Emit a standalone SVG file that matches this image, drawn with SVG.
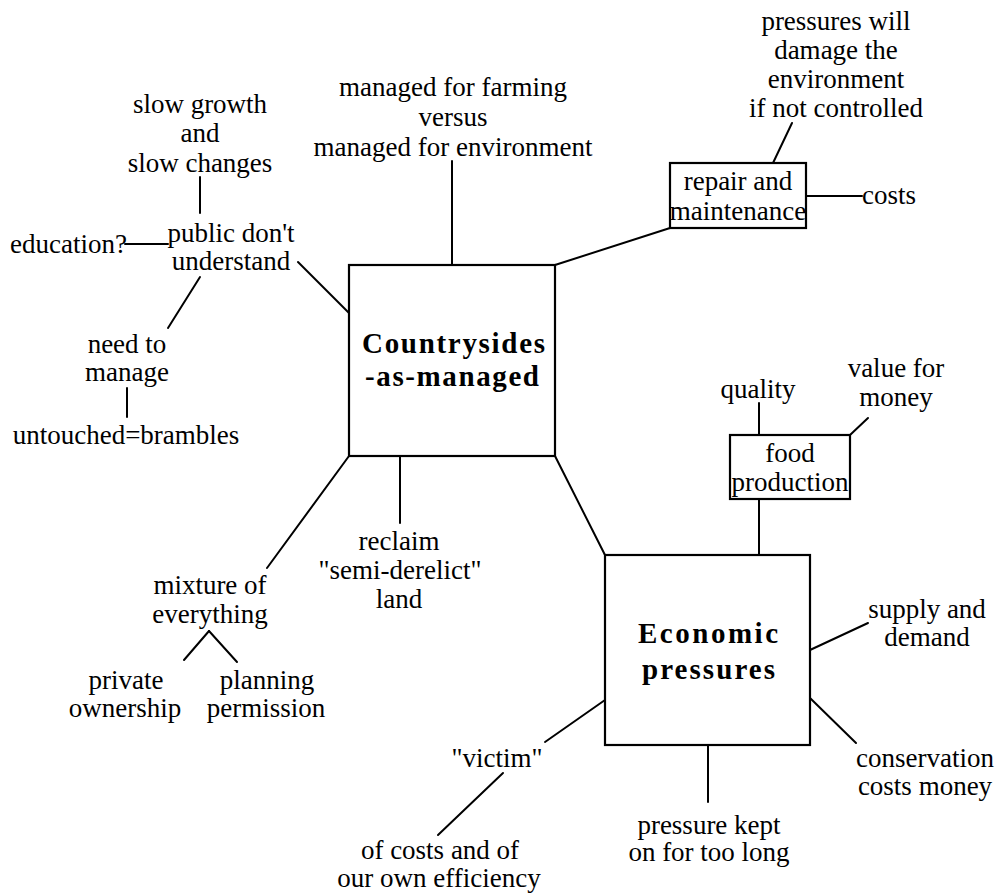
<svg xmlns="http://www.w3.org/2000/svg" width="1001" height="896" viewBox="0 0 1001 896">
  <style>
    text { font-family: "Liberation Serif", "Times New Roman", Times, serif; font-size: 27px; fill: #000; }
    .c { text-anchor: middle; }
    .b { font-weight: bold; font-size: 29px; }
    .box { fill: #fff; stroke: #000; stroke-width: 2.2; }
    #connectors line { stroke: #000; stroke-width: 2; stroke-linecap: round; }
  </style>
  <rect width="1001" height="896" fill="#fff"/>

  <g id="connectors">
    <line x1="200" y1="177" x2="200" y2="213"/>
    <line x1="125" y1="244" x2="168" y2="244"/>
    <line x1="298" y1="262" x2="349" y2="313"/>
    <line x1="200" y1="277" x2="168" y2="328"/>
    <line x1="127" y1="388" x2="127" y2="417"/>
    <line x1="452" y1="161" x2="452" y2="265"/>
    <line x1="555" y1="265" x2="670" y2="228"/>
    <line x1="792" y1="123" x2="773" y2="163"/>
    <line x1="806" y1="196" x2="862" y2="196"/>
    <line x1="555" y1="456" x2="605" y2="555"/>
    <line x1="349" y1="456" x2="267" y2="568"/>
    <line x1="400" y1="456" x2="400" y2="523"/>
    <line x1="209" y1="631" x2="184" y2="660"/>
    <line x1="209" y1="631" x2="237" y2="662"/>
    <line x1="759" y1="403" x2="759" y2="435"/>
    <line x1="850" y1="435" x2="868" y2="418"/>
    <line x1="759" y1="499" x2="759" y2="555"/>
    <line x1="810" y1="650" x2="868" y2="623"/>
    <line x1="810" y1="698" x2="856" y2="743"/>
    <line x1="708" y1="746" x2="708" y2="802"/>
    <line x1="605" y1="700" x2="545" y2="742"/>
    <line x1="503" y1="773" x2="438" y2="835"/>
  </g>

  <g id="countrysides">
    <rect class="box" x="349" y="265" width="206" height="191"/>
    <text class="b" x="362" y="353" textLength="183" lengthAdjust="spacing">Countrysides</text>
    <text class="b" x="365" y="386" textLength="174" lengthAdjust="spacing">-as-managed</text>
  </g>

  <g id="economic">
    <rect class="box" x="605" y="555" width="205" height="190"/>
    <text class="b" x="638" y="643" textLength="140" lengthAdjust="spacing">Economic</text>
    <text class="b" x="642" y="679" textLength="133" lengthAdjust="spacing">pressures</text>
  </g>

  <g id="repair">
    <rect class="box" x="670" y="163" width="136" height="65"/>
    <text class="c" x="738" y="190">repair and</text>
    <text class="c" x="738" y="220">maintenance</text>
  </g>

  <g id="food">
    <rect class="box" x="730" y="435" width="120" height="64"/>
    <text class="c" x="790" y="462">food</text>
    <text class="c" x="790" y="491">production</text>
  </g>

  <g id="slow-growth">
    <text class="c" x="200" y="113">slow growth</text>
    <text class="c" x="200" y="142">and</text>
    <text class="c" x="200" y="172">slow changes</text>
  </g>

  <g id="public">
    <text class="c" x="231" y="242">public don't</text>
    <text class="c" x="231" y="270">understand</text>
  </g>

  <g id="education">
    <text x="10" y="253">education?</text>
  </g>

  <g id="need-to-manage">
    <text class="c" x="127" y="353">need to</text>
    <text class="c" x="127" y="381">manage</text>
  </g>

  <g id="untouched">
    <text class="c" x="126" y="444">untouched=brambles</text>
  </g>

  <g id="farming">
    <text class="c" x="453" y="96">managed for farming</text>
    <text class="c" x="453" y="126">versus</text>
    <text class="c" x="453" y="156">managed for environment</text>
  </g>

  <g id="damage">
    <text class="c" x="836" y="30">pressures will</text>
    <text class="c" x="836" y="59">damage the</text>
    <text class="c" x="836" y="88">environment</text>
    <text class="c" x="836" y="117">if not controlled</text>
  </g>

  <g id="costs">
    <text x="862" y="204">costs</text>
  </g>

  <g id="quality">
    <text class="c" x="758" y="398">quality</text>
  </g>

  <g id="value">
    <text class="c" x="896" y="377">value for</text>
    <text class="c" x="896" y="406">money</text>
  </g>

  <g id="supply">
    <text class="c" x="927" y="618">supply and</text>
    <text class="c" x="927" y="646">demand</text>
  </g>

  <g id="conservation">
    <text class="c" x="925" y="767">conservation</text>
    <text class="c" x="925" y="795">costs money</text>
  </g>

  <g id="pressure-kept">
    <text class="c" x="709" y="834">pressure kept</text>
    <text class="c" x="709" y="861">on for too long</text>
  </g>

  <g id="victim">
    <text class="c" x="497" y="767">"victim"</text>
  </g>

  <g id="efficiency">
    <text class="c" x="440" y="859">of costs and of</text>
    <text class="c" x="439" y="887">our own efficiency</text>
  </g>

  <g id="reclaim">
    <text class="c" x="399" y="550">reclaim</text>
    <text class="c" x="400" y="579">"semi-derelict"</text>
    <text class="c" x="399" y="608">land</text>
  </g>

  <g id="mixture">
    <text class="c" x="210" y="594">mixture of</text>
    <text class="c" x="210" y="623">everything</text>
  </g>

  <g id="private">
    <text class="c" x="126" y="689">private</text>
    <text class="c" x="125" y="717">ownership</text>
  </g>

  <g id="planning">
    <text class="c" x="267" y="689">planning</text>
    <text class="c" x="266" y="717">permission</text>
  </g>
</svg>
